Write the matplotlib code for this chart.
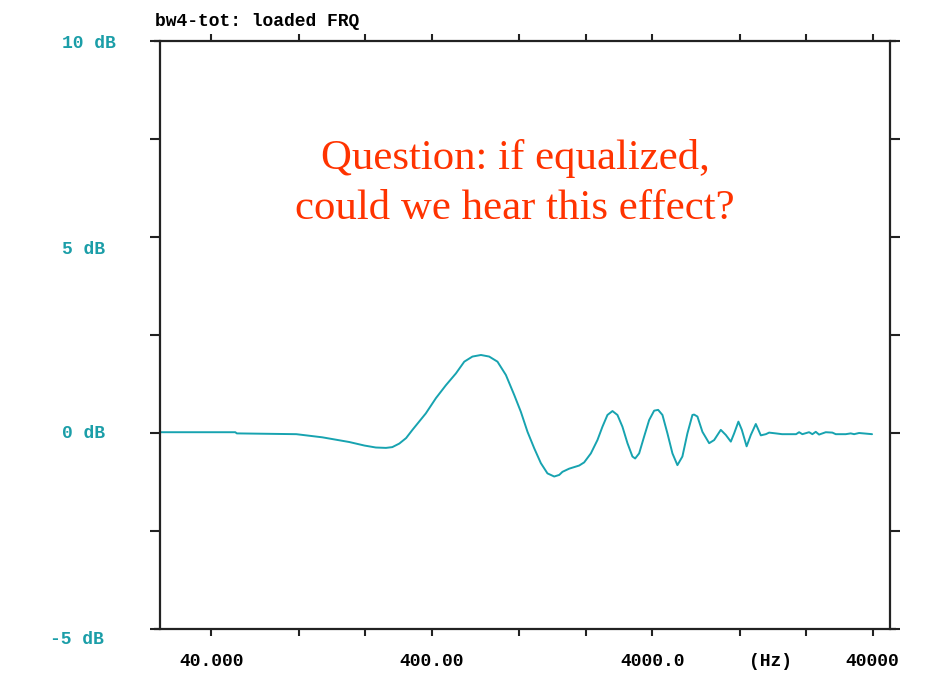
import matplotlib
matplotlib.use("Agg")
import matplotlib.pyplot as plt
from matplotlib.ticker import NullFormatter, FixedLocator

# Loaded frequency response of bw4-tot (Hz, dB)
freq_hz = [23.4, 51.4, 52.2, 97.2, 127.5, 169, 198, 223, 248, 265, 285, 306,
           327, 376, 418, 464, 515, 562, 612, 669, 729, 795, 868, 947, 1015,
           1088, 1167, 1251, 1340, 1438, 1515, 1568, 1681, 1867, 1966, 2109,
           2259, 2380, 2508, 2643, 2784, 2933, 3091, 3256, 3350, 3492, 3679,
           3877, 4085, 4259, 4455, 4693, 4945, 5209, 5487, 5782, 6093, 6200,
           6420, 6764, 7257, 7646, 8195, 8636, 9100, 9421, 9851, 10210, 10733,
           11215, 11815, 12450, 13117, 13576, 14557, 15548, 17992, 18569,
           19216, 20608, 21335, 22104, 22877, 24540, 26291, 27231, 30225,
           31848, 32993, 34744, 39788]
level_db = [0.02, 0.02, -0.01, -0.03, -0.11, -0.23, -0.32, -0.37, -0.38, -0.36,
            -0.27, -0.13, 0.08, 0.50, 0.89, 1.22, 1.52, 1.82, 1.95, 1.99, 1.95,
            1.82, 1.48, 0.97, 0.54, 0.03, -0.39, -0.77, -1.03, -1.11, -1.07,
            -0.99, -0.91, -0.83, -0.75, -0.52, -0.18, 0.16, 0.46, 0.56, 0.46,
            0.16, -0.26, -0.60, -0.65, -0.52, -0.09, 0.33, 0.57, 0.59, 0.46,
            -0.01, -0.52, -0.82, -0.60, -0.01, 0.46, 0.47, 0.42, 0.03, -0.26,
            -0.18, 0.08, -0.05, -0.22, -0.01, 0.29, 0.08, -0.34, -0.05, 0.23,
            -0.06, -0.03, 0.01, -0.01, -0.03, -0.03, 0.02, -0.03, 0.02, -0.03,
            0.03, -0.04, 0.02, 0.01, -0.03, -0.03, -0.01, -0.03, 0.00, -0.03]

x_ticks = [40, 100, 200, 400, 1000, 2000, 4000, 10000, 20000, 40000]
x_labels = {40: "40.000", 400: "400.00", 4000: "4000.0", 40000: "40000"}
y_ticks = [-5, -2.5, 0, 2.5, 5, 7.5, 10]
y_labels = [(10, "10 dB"), (5, "5 dB"), (0, "0 dB"), (-5, "-5 dB")]

W, H = 930, 686
fig = plt.figure(figsize=(W / 100, H / 100), dpi=100)
fig.patch.set_facecolor("white")
ax = fig.add_axes([160 / W, 1 - 629 / H, 730 / W, 588 / H])
ax.set_facecolor("white")

teal = "#17a3b0"
label_teal = "#1b9ea8"
mono = ["Liberation Mono", "DejaVu Sans Mono"]
serif = ["Liberation Serif", "DejaVu Serif"]

ax.plot(freq_hz, level_db, color=teal, lw=1.4,
        solid_joinstyle="round", solid_capstyle="round")

ax.set_xscale("log")
ax.set_xlim(23.4, 48000)
ax.set_ylim(-5, 10)

# frame: vertical sides as spines, horizontal sides slightly overhanging
for side in ("top", "bottom"):
    ax.spines[side].set_visible(False)
for side in ("left", "right"):
    ax.spines[side].set_linewidth(1.6)
    ax.spines[side].set_color("#222222")
ov = 6 / 730
for yy in (0, 1):
    ax.plot([-ov, 1 + ov], [yy, yy], transform=ax.transAxes, color="#222222",
            lw=1.6, clip_on=False, solid_capstyle="butt")

ax.xaxis.set_major_locator(FixedLocator(x_ticks))
ax.xaxis.set_minor_locator(FixedLocator([]))
ax.set_xticklabels([x_labels.get(t, "") for t in x_ticks])
ax.tick_params(axis="x", which="both", direction="out", length=5, width=1.5,
               color="#222222", top=True, bottom=True, pad=12,
               labelsize=13, labelcolor="black")
for lab in ax.get_xticklabels():
    lab.set_fontfamily(mono)
    lab.set_fontweight("bold")

ax.set_yticks(y_ticks)
ax.yaxis.set_major_formatter(NullFormatter())
ax.tick_params(axis="y", direction="out", length=7, width=1.5,
               color="#222222", left=True, right=True)

# dB labels on the left
label_rows = {10: 44, 5: 249, 0: 433, -5: 639}
for val, txt in y_labels:
    x0 = 50 if val < 0 else 62
    fig.text(x0 / W, 1 - label_rows[val] / H, txt, ha="left", va="center",
             color=label_teal, fontsize=13, fontweight="bold", family=mono)

# frequency unit, on the same row as the tick labels
fig.canvas.draw()
row_y = ax.get_xticklabels()[0].get_window_extent().y0
ax.annotate("(Hz)", xy=(771 / W, row_y / H), xycoords="figure fraction",
            ha="center", va="bottom", color="black", fontsize=13,
            fontweight="bold", family=mono)

# title
fig.text(155 / W, 1 - 21 / H, "bw4-tot: loaded FRQ", ha="left", va="center",
         color="black", fontsize=13, fontweight="bold", family=mono)

# annotation
ax.text(0.4863, 1 - (169 - 41) / 588, "Question: if equalized,",
        transform=ax.transAxes, ha="center", va="baseline",
        color="#ff3300", fontsize=30.8, family=serif)
ax.text(0.4863, 1 - (219 - 41) / 588, "could we hear this effect?",
        transform=ax.transAxes, ha="center", va="baseline",
        color="#ff3300", fontsize=30.8, family=serif)

fig.savefig("out.png", dpi=100)
